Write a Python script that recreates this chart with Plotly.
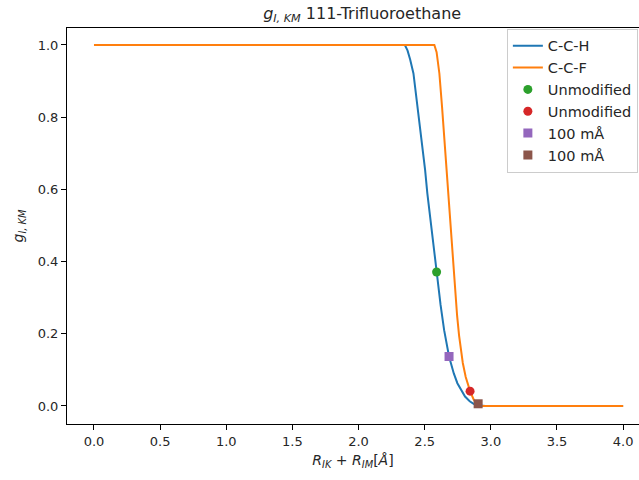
import plotly.graph_objects as go

# C-C-H curve
cch_x = [0.0, 2.35, 2.37, 2.39, 2.415, 2.447, 2.478, 2.503, 2.52, 2.548, 2.591, 2.62, 2.647, 2.684,
         2.72, 2.747, 2.78, 2.805, 2.84, 2.87, 2.90, 2.93, 2.96, 4.0]
cch_y = [1.0, 1.0, 0.985, 0.96, 0.921, 0.829, 0.737, 0.654, 0.589, 0.497, 0.37, 0.28, 0.21, 0.137,
         0.09, 0.063, 0.04, 0.026, 0.013, 0.006, 0.002, 0.0005, 0.0, 0.0]

# C-C-F curve
ccf_x = [0.0, 2.573, 2.59, 2.611, 2.631, 2.649, 2.664, 2.679, 2.694, 2.73, 2.745, 2.76, 2.775, 2.788, 2.81,
         2.823, 2.843, 2.87, 2.894, 2.92, 4.0]
ccf_y = [1.0, 1.0, 0.98, 0.921, 0.829, 0.737, 0.654, 0.589, 0.497, 0.321, 0.25, 0.195, 0.15, 0.119, 0.08,
         0.063, 0.041, 0.018, 0.005, 0.0, 0.0]

# markers
pt_names = ["Unmodified", "Unmodified", "100 mÅ", "100 mÅ"]
pt_x = [2.59, 2.843, 2.684, 2.904]
pt_y = [0.371, 0.041, 0.137, 0.006]
pt_colors = ["#2ca02c", "#d62728", "#9467bd", "#8c564b"]
pt_symbols = ["circle", "circle", "square", "square"]

fig = go.Figure()
fig.add_trace(go.Scatter(x=cch_x, y=cch_y, mode="lines", name="C-C-H",
                         line=dict(color="#1f77b4", width=2)))
fig.add_trace(go.Scatter(x=ccf_x, y=ccf_y, mode="lines", name="C-C-F",
                         line=dict(color="#ff7f0e", width=2)))
for n, x, y, c, s in zip(pt_names, pt_x, pt_y, pt_colors, pt_symbols):
    fig.add_trace(go.Scatter(x=[x], y=[y], mode="markers", name=n,
                             marker=dict(color=c, symbol=s, size=9, line=dict(width=0))))

font = dict(family="DejaVu Sans", size=13, color="#262626")
fig.update_layout(
    width=639, height=480,
    margin=dict(l=67, r=0, t=28, b=56),
    paper_bgcolor="white", plot_bgcolor="white",
    font=font,
    showlegend=True,
    title=dict(text="<i>g</i><sub><i>I, KM</i></sub> 111-Trifluoroethane",
               x=0.516, xref="paper", xanchor="center",
               y=1 - 13 / 480, yref="container", yanchor="middle",
               font=dict(family="DejaVu Sans", size=16, color="#262626")),
    legend=dict(x=0.769, y=0.998, xanchor="left", yanchor="top",
                bgcolor="white", bordercolor="#cccccc", borderwidth=1,
                font=dict(family="DejaVu Sans", size=14.5, color="#262626")),
)
fig.update_xaxes(range=[-0.204, 4.12], tickvals=[0, 0.5, 1, 1.5, 2, 2.5, 3, 3.5, 4],
                 ticktext=["0.0", "0.5", "1.0", "1.5", "2.0", "2.5", "3.0", "3.5", "4.0"],
                 ticks="outside", ticklen=5, tickcolor="black", tickwidth=1,
                 showline=True, linecolor="black", linewidth=1, mirror=True,
                 showgrid=False, zeroline=False,
                 title=dict(text="<i>R</i><sub><i>IK</i></sub> + <i>R</i><sub><i>IM</i></sub>[<i>Å</i>]",
                            standoff=7, font=dict(family="DejaVu Sans", size=14, color="#262626")))
fig.update_yaxes(range=[-0.05, 1.047], tickvals=[0, 0.2, 0.4, 0.6, 0.8, 1.0],
                 ticktext=["0.0", "0.2", "0.4", "0.6", "0.8", "1.0"],
                 ticks="outside", ticklen=5, tickcolor="black", tickwidth=1,
                 showline=True, linecolor="black", linewidth=1, mirror=False,
                 showgrid=False, zeroline=False,
                 title=dict(text="<i>g</i><sub><i>I, KM</i></sub>", standoff=10,
                            font=dict(family="DejaVu Sans", size=14, color="#262626")))

fig.write_html("out.html")
